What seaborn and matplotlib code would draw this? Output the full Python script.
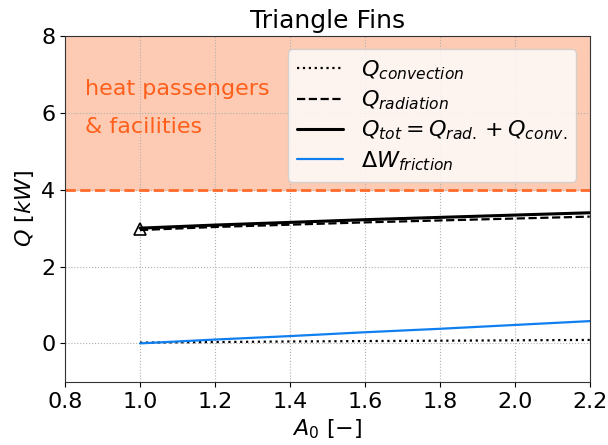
import numpy as np
import pandas as pd
import matplotlib
matplotlib.use("Agg")
import matplotlib.pyplot as plt
import seaborn as sns

# values
A0 = [1.0, 1.2, 1.4, 1.6, 1.8, 2.0, 2.2]
q_conv = [0.02, 0.035, 0.05, 0.06, 0.07, 0.08, 0.09]
q_rad = [2.95, 3.03, 3.09, 3.15, 3.20, 3.25, 3.30]
q_tot = [3.00, 3.08, 3.15, 3.22, 3.28, 3.34, 3.40]
w_fric = [0.0, 0.10, 0.19, 0.29, 0.38, 0.48, 0.58]

df = pd.DataFrame({"A0": A0, "conv": q_conv, "rad": q_rad, "tot": q_tot, "fric": w_fric})

sns.set_style("ticks", {"text.color": "black", "axes.labelcolor": "black",
                        "xtick.color": "black", "ytick.color": "black",
                        "axes.edgecolor": "#333333"})
plt.rcParams['font.family'] = ['DejaVu Sans']

fig, ax = plt.subplots(figsize=(6.08, 4.45), dpi=100)

ax.axhspan(4, 8, color="#fdcbb3", zorder=0)
ax.axhline(4, color="#ff6a2a", ls="--", lw=2, zorder=1)
ax.text(0.853, 6.47, "heat passengers", color="#ff5f1a", fontsize=16)
ax.text(0.853, 5.47, "& facilities", color="#ff5f1a", fontsize=16)

sns.lineplot(data=df, x="A0", y="conv", ax=ax, color="black", ls=":", lw=1.6,
             label=r"$Q_{convection}$")
sns.lineplot(data=df, x="A0", y="rad", ax=ax, color="black", ls="--", lw=1.6,
             label=r"$Q_{radiation}$")
sns.lineplot(data=df, x="A0", y="tot", ax=ax, color="black", lw=2.2,
             label=r"$Q_{tot} = Q_{rad.} + Q_{conv.}$")
sns.lineplot(data=df, x="A0", y="fric", ax=ax, color="#0f7ff0", lw=1.6,
             label=r"$\Delta W_{friction}$")
ax.plot(A0[0], (q_rad[0] + q_tot[0]) / 2, marker="^", mfc="none", mec="black",
        ms=8, mew=1.2, ls="none")

ax.set_xlim(0.8, 2.2)
ax.set_ylim(-1, 8)
ax.set_yticks([0, 2, 4, 6, 8])
ax.grid(True, ls=":", color="#b0b0b0", lw=0.8)
ax.tick_params(labelsize=16)
ax.set_xlabel(r"$A_0\ [-]$", fontsize=16)
ax.set_ylabel(r"$Q\ [kW]$", fontsize=16)
ax.set_title("Triangle Fins", fontsize=18)
ax.legend(loc="upper right", fontsize=16, framealpha=0.8, handlelength=2.1,
          labelspacing=0.3, borderaxespad=0.6)

fig.subplots_adjust(left=0.107, right=0.970, top=0.919, bottom=0.142)
fig.savefig("out.png")
